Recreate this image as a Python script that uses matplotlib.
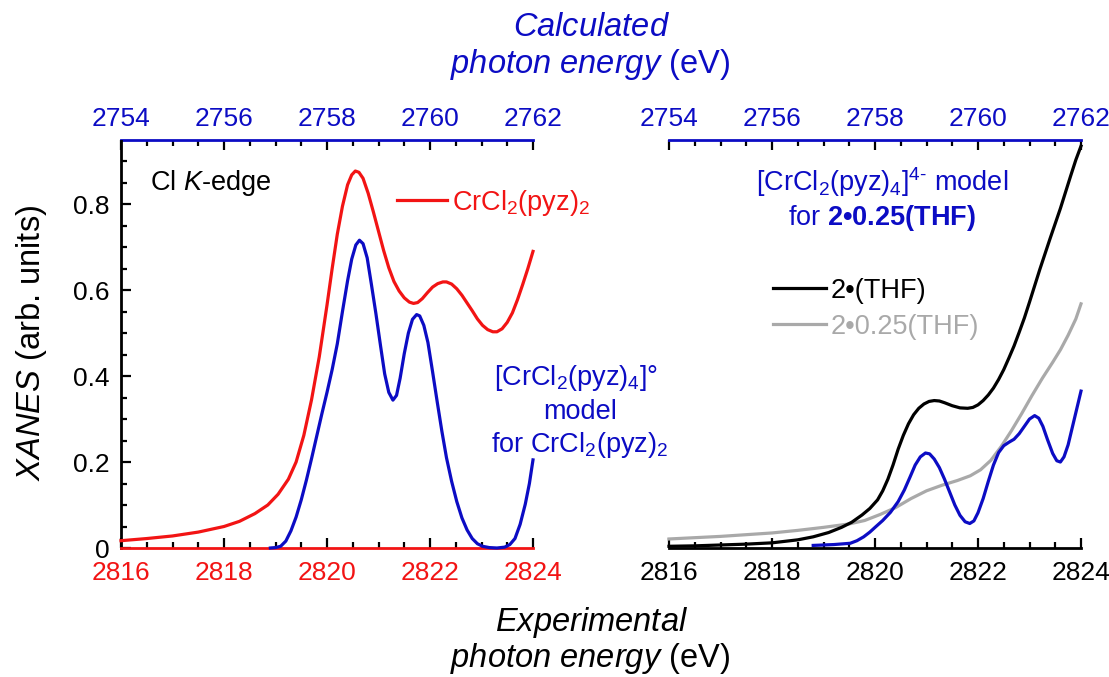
import matplotlib
matplotlib.use('Agg')
import matplotlib.pyplot as plt
from matplotlib.ticker import FixedLocator, FormatStrFormatter
from matplotlib.lines import Line2D

plt.rcParams['font.family'] = ['Liberation Sans', 'DejaVu Sans']
plt.rcParams['mathtext.fontset'] = 'custom'
plt.rcParams['mathtext.rm'] = 'Liberation Sans'
plt.rcParams['mathtext.it'] = 'Liberation Sans:italic'
plt.rcParams['mathtext.bf'] = 'Liberation Sans:bold'

RED = '#f21414'
BLUE = '#0c0cc4'
GRAY = '#a9a9a9'

# ---------------- data ----------------
ENERGY_SHIFT = 62  # calculated = experimental - 62 eV
X_RANGE = (2816, 2824)
Y_RANGE = (0, 0.948)
x_major = [2816, 2818, 2820, 2822, 2824]
x_minor = [2816.5, 2817, 2817.5, 2818.5, 2819, 2819.5, 2820.5, 2821, 2821.5,
           2822.5, 2823, 2823.5]
calc_major = [2754, 2756, 2758, 2760, 2762]
calc_minor = [2754.5, 2755, 2755.5, 2756.5, 2757, 2757.5, 2758.5, 2759, 2759.5,
              2760.5, 2761, 2761.5]
y_ticks = [0, 0.2, 0.4, 0.6, 0.8]
y_tick_labels = ['0', '0.2', '0.4', '0.6', '0.8']
y_minor = [0.05, 0.1, 0.15, 0.25, 0.3, 0.35, 0.45, 0.5, 0.55, 0.65, 0.7, 0.75,
           0.85, 0.9]

# Left panel: experimental CrCl2(pyz)2
exp_cr_x = [2816.0, 2816.5, 2817.0, 2817.5, 2818.0, 2818.3, 2818.6, 2818.85, 2819.05,
            2819.25, 2819.4, 2819.55, 2819.7, 2819.85, 2820.0, 2820.1, 2820.2, 2820.3,
            2820.4, 2820.48, 2820.55, 2820.62, 2820.7, 2820.8, 2820.9, 2821.0, 2821.1,
            2821.2, 2821.3, 2821.4, 2821.5, 2821.6, 2821.68, 2821.76, 2821.85, 2821.95,
            2822.05, 2822.15, 2822.25, 2822.32, 2822.42, 2822.52, 2822.62, 2822.72,
            2822.82, 2822.92, 2823.02, 2823.12, 2823.22, 2823.3, 2823.4, 2823.5, 2823.6,
            2823.7, 2823.8, 2823.9, 2824.0]
exp_cr_y = [0.017, 0.022, 0.028, 0.037, 0.050, 0.062, 0.080, 0.100, 0.125,
            0.160, 0.200, 0.262, 0.345, 0.445, 0.565, 0.650, 0.730, 0.795,
            0.845, 0.868, 0.877, 0.874, 0.860, 0.825, 0.782, 0.737, 0.692,
            0.652, 0.620, 0.598, 0.582, 0.572, 0.569, 0.571, 0.580, 0.594,
            0.607, 0.615, 0.619, 0.619, 0.614, 0.603, 0.588, 0.570,
            0.552, 0.533, 0.518, 0.508, 0.503, 0.503, 0.510, 0.525, 0.547,
            0.578, 0.613, 0.650, 0.690]

# Left panel: calculated [CrCl2(pyz)4]0 model (plotted on experimental scale)
calc0_x = [2818.9, 2819.0, 2819.1, 2819.2, 2819.3, 2819.4, 2819.5, 2819.6, 2819.7,
           2819.8, 2819.9, 2820.0, 2820.1, 2820.2, 2820.3, 2820.4, 2820.48, 2820.56,
           2820.63, 2820.7, 2820.78, 2820.86, 2820.95, 2821.04, 2821.12, 2821.2,
           2821.28, 2821.35, 2821.42, 2821.5, 2821.58, 2821.66, 2821.74, 2821.8,
           2821.88, 2821.96, 2822.05, 2822.14, 2822.23, 2822.32, 2822.42, 2822.52,
           2822.62, 2822.72, 2822.82, 2822.92, 2823.02, 2823.15, 2823.3, 2823.45,
           2823.55, 2823.65, 2823.75, 2823.85, 2823.93, 2824.0]
calc0_y = [0.000, 0.001, 0.004, 0.016, 0.040, 0.072, 0.112, 0.158, 0.208,
           0.260, 0.312, 0.362, 0.415, 0.475, 0.550, 0.622, 0.672, 0.705,
           0.716, 0.708, 0.675, 0.615, 0.545, 0.470, 0.405, 0.362,
           0.344, 0.355, 0.395, 0.452, 0.500, 0.532, 0.543, 0.540,
           0.518, 0.478, 0.410, 0.340, 0.272, 0.210, 0.155, 0.108,
           0.070, 0.042, 0.022, 0.010, 0.004, 0.001, 0.000, 0.002,
           0.008, 0.022, 0.055, 0.102, 0.150, 0.205]

# Right panel: 2·(THF) experimental
thf_x = [2816.0, 2816.5, 2817.0, 2817.5, 2818.0, 2818.5, 2818.8, 2819.1, 2819.35,
         2819.55, 2819.75, 2819.9, 2820.05, 2820.15, 2820.25, 2820.35, 2820.45, 2820.55,
         2820.65, 2820.75, 2820.85, 2820.95, 2821.05, 2821.15, 2821.25, 2821.35, 2821.5,
         2821.65, 2821.8, 2821.9, 2822.0, 2822.1, 2822.2, 2822.3, 2822.4, 2822.5, 2822.6,
         2822.7, 2822.8, 2822.9, 2823.0, 2823.1, 2823.2, 2823.3, 2823.4, 2823.5, 2823.6,
         2823.7, 2823.8, 2823.9, 2824.0]
thf_y = [0.004, 0.005, 0.007, 0.009, 0.012, 0.019, 0.026, 0.036, 0.048,
         0.060, 0.077, 0.092, 0.112, 0.133, 0.160, 0.193, 0.230, 0.262,
         0.289, 0.310, 0.325, 0.335, 0.341, 0.343, 0.342, 0.338, 0.331,
         0.326, 0.325, 0.327, 0.333, 0.343, 0.356, 0.372, 0.392, 0.415, 0.442,
         0.470, 0.502, 0.535, 0.572, 0.610, 0.648, 0.684, 0.720, 0.755, 0.790,
         0.828, 0.866, 0.903, 0.935]

# Right panel: 2·0.25(THF) experimental
thf25_x = [2816.0, 2816.5, 2817.0, 2817.5, 2818.0, 2818.5, 2819.0, 2819.5, 2819.8,
           2820.1, 2820.4, 2820.7, 2821.0, 2821.3, 2821.6, 2821.85, 2822.05, 2822.25,
           2822.45, 2822.65, 2822.85, 2823.05, 2823.25, 2823.45, 2823.6, 2823.75,
           2823.9, 2824.0]
thf25_y = [0.021, 0.024, 0.027, 0.031, 0.035, 0.041, 0.048, 0.056, 0.064,
           0.078, 0.094, 0.115, 0.133, 0.146, 0.157, 0.168, 0.182, 0.204,
           0.236, 0.273, 0.313, 0.355, 0.395, 0.432, 0.461, 0.495,
           0.533, 0.568]

# Right panel: calculated [CrCl2(pyz)4]4- model
calc4_x = [2818.8, 2819.2, 2819.52, 2819.65, 2819.78, 2819.9, 2820.01, 2820.15, 2820.3,
           2820.45, 2820.57, 2820.68, 2820.78, 2820.88, 2820.98, 2821.06, 2821.15,
           2821.25, 2821.35, 2821.45, 2821.55, 2821.65, 2821.75, 2821.84, 2821.92,
           2822.0, 2822.1, 2822.2, 2822.3, 2822.4, 2822.5, 2822.6, 2822.7, 2822.8,
           2822.9, 2823.0, 2823.1, 2823.18, 2823.26, 2823.35, 2823.45, 2823.53,
           2823.6, 2823.67, 2823.75, 2823.85, 2823.93, 2824.0]
calc4_y = [0.006, 0.008, 0.011, 0.017, 0.026, 0.037, 0.049, 0.064, 0.083,
           0.108, 0.135, 0.165, 0.193, 0.212, 0.221, 0.219, 0.207,
           0.187, 0.160, 0.130, 0.100, 0.076, 0.061, 0.057, 0.063,
           0.082, 0.115, 0.155, 0.193, 0.222, 0.238, 0.246, 0.253, 0.266,
           0.283, 0.300, 0.308, 0.302, 0.283, 0.252, 0.220, 0.203,
           0.200, 0.212, 0.240, 0.290, 0.330, 0.365]

# ---------------- figure ----------------
W, H = 1109, 677
fig = plt.figure(figsize=(W / 100, H / 100), dpi=100)


def fx(p):
    return p / W


def fy(p):
    return 1 - p / H


AX_W = 412
AX_H = 407.5
axL = fig.add_axes([fx(121), fy(548), AX_W / W, AX_H / H])
axR = fig.add_axes([fx(669), fy(548), AX_W / W, AX_H / H])

LW = 2.3
axL.plot(exp_cr_x, exp_cr_y, color=RED, lw=LW, zorder=3, clip_on=False,
         solid_joinstyle='round')
axL.plot(calc0_x, calc0_y, color=BLUE, lw=LW, zorder=4, clip_on=False,
         solid_joinstyle='round')
axR.plot(thf25_x, thf25_y, color=GRAY, lw=LW, zorder=3, clip_on=False,
         solid_joinstyle='round')
axR.plot(thf_x, thf_y, color='black', lw=LW, zorder=4, clip_on=False,
         solid_joinstyle='round')
axR.plot(calc4_x, calc4_y, color=BLUE, lw=LW, zorder=5, clip_on=False,
         solid_joinstyle='round')

TICK_FS = 19
SPINE_W = 2.0

for ax in (axL, axR):
    ax.set_xlim(*X_RANGE)
    ax.set_ylim(*Y_RANGE)
    ax.xaxis.set_major_locator(FixedLocator(x_major))
    ax.xaxis.set_minor_locator(FixedLocator(x_minor))
    ax.xaxis.set_major_formatter(FormatStrFormatter('%d'))
    ax.spines['top'].set_visible(False)
    ax.spines['right'].set_visible(False)
    ax.spines['bottom'].set_linewidth(SPINE_W)
    ax.tick_params(axis='x', which='major', direction='in', length=7, width=1.6,
                   labelsize=TICK_FS, pad=9, color='black')
    ax.tick_params(axis='x', which='minor', direction='in', length=4.5, width=1.6,
                   color='black')
    ax.patch.set_alpha(0)
    sec = ax.secondary_xaxis('top', functions=(lambda x: x - ENERGY_SHIFT,
                                               lambda x: x + ENERGY_SHIFT))
    sec.xaxis.set_major_locator(FixedLocator(calc_major))
    sec.xaxis.set_minor_locator(FixedLocator(calc_minor))
    sec.xaxis.set_major_formatter(FormatStrFormatter('%d'))
    sec.spines['top'].set_color(BLUE)
    sec.spines['top'].set_linewidth(SPINE_W)
    sec.tick_params(axis='x', which='major', direction='in', length=7, width=1.6,
                    labelsize=TICK_FS, pad=7, color='black', labelcolor=BLUE)
    sec.tick_params(axis='x', which='minor', direction='in', length=4.5, width=1.6,
                    color='black')

# left panel styling
axL.spines['bottom'].set_color(RED)
axL.tick_params(axis='x', which='both', labelcolor=RED)
axL.spines['left'].set_linewidth(SPINE_W)
axL.set_yticks(y_ticks)
axL.set_yticklabels(y_tick_labels)
axL.yaxis.set_minor_locator(FixedLocator(y_minor))
axL.tick_params(axis='y', which='major', direction='in', length=7, width=1.6,
                labelsize=TICK_FS, pad=8)
axL.tick_params(axis='y', which='minor', direction='in', length=4.5, width=1.6)

# right panel styling
axR.spines['left'].set_visible(False)
axR.tick_params(axis='y', which='both', left=False, labelleft=False)

ANN_FS = 19.5

# left panel annotations
fig.text(fx(150), fy(190), r'Cl $\mathit{K}$-edge', fontsize=ANN_FS, color='black',
         ha='left', va='baseline')
fig.add_artist(Line2D([fx(397), fx(447)], [fy(200), fy(200)], color=RED, lw=LW))
fig.text(fx(452), fy(210), r'CrCl$_\mathrm{2}$(pyz)$_\mathrm{2}$', fontsize=ANN_FS,
         color=RED, ha='left', va='baseline')
fig.text(fx(576), fy(385), r'[CrCl$_\mathrm{2}$(pyz)$_\mathrm{4}$]°', fontsize=ANN_FS,
         color=BLUE, ha='center', va='baseline')
fig.text(fx(580), fy(419), 'model', fontsize=ANN_FS, color=BLUE, ha='center', va='baseline')
fig.text(fx(580), fy(452), r'for CrCl$_\mathrm{2}$(pyz)$_\mathrm{2}$', fontsize=ANN_FS,
         color=BLUE, ha='center', va='baseline')

# right panel annotations
fig.text(fx(882), fy(191), r'[CrCl$_\mathrm{2}$(pyz)$_\mathrm{4}$]$^{\mathrm{4}\text{-}}$ model',
         fontsize=ANN_FS, color=BLUE, ha='center', va='baseline')
fig.text(fx(882), fy(225), r'for $\mathbf{2•0.25(THF)}$', fontsize=ANN_FS, color=BLUE,
         ha='center', va='baseline')
fig.add_artist(Line2D([fx(773), fx(826)], [fy(288), fy(288)], color='black', lw=LW))
fig.text(fx(831), fy(298), '2•(THF)', fontsize=ANN_FS, color='black', ha='left',
         va='baseline')
fig.add_artist(Line2D([fx(773), fx(826)], [fy(324), fy(324)], color=GRAY, lw=LW))
fig.text(fx(831), fy(334), '2•0.25(THF)', fontsize=ANN_FS, color=GRAY, ha='left',
         va='baseline')

# axis titles
LAB_FS = 23.5
fig.text(fx(592), fy(28), r'$\mathit{Calculated}$', fontsize=LAB_FS, color=BLUE,
         ha='center', va='center')
fig.text(fx(590), fy(64), r'$\mathit{photon\ energy}$ (eV)', fontsize=LAB_FS, color=BLUE,
         ha='center', va='center')
fig.text(fx(592), fy(622), r'$\mathit{Experimental}$', fontsize=LAB_FS, color='black',
         ha='center', va='center')
fig.text(fx(590), fy(658), r'$\mathit{photon\ energy}$ (eV)', fontsize=LAB_FS,
         color='black', ha='center', va='center')
fig.text(fx(32), fy(343), r'$\mathit{XANES}$ (arb. units)', fontsize=LAB_FS,
         color='black', ha='center', va='center', rotation=90)

fig.savefig('out.png', dpi=100)
